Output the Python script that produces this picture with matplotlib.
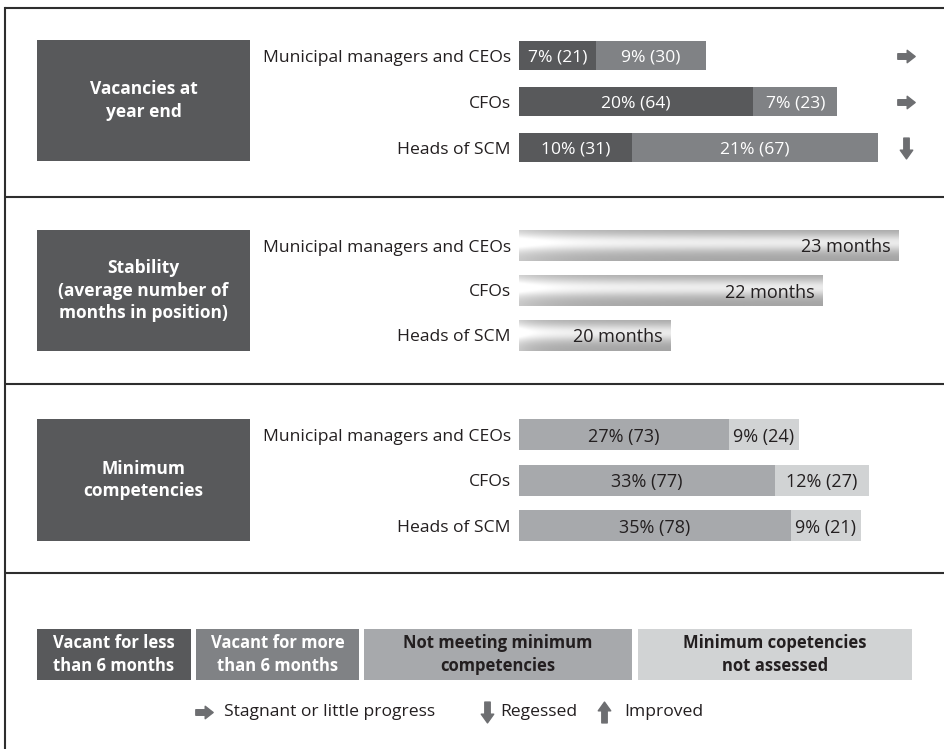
import numpy as np
import matplotlib.pyplot as plt
from matplotlib.path import Path
from matplotlib.patches import Rectangle
import matplotlib.transforms as mtransforms

plt.rcParams['font.family'] = ['Open Sans', 'DejaVu Sans']

# data
roles = ['Municipal managers and CEOs', 'CFOs', 'Heads of SCM']

vac_less_pct = [7, 20, 10]
vac_less_n = [21, 64, 31]
vac_more_pct = [9, 7, 21]
vac_more_n = [30, 23, 67]
trend = ['flat', 'flat', 'down']

months = [23, 22, 20]

notmeet_pct = [27, 33, 35]
notmeet_n = [73, 77, 78]
notassessed_pct = [9, 12, 9]
notassessed_n = [24, 27, 21]

legend_labels = ['Vacant for less\nthan 6 months', 'Vacant for more\nthan 6 months',
                 'Not meeting minimum\ncompetencies', 'Minimum copetencies\nnot assessed']
trend_labels = ['Stagnant or little progress', 'Regessed', 'Improved']

DARK = '#58595b'
MID = '#808285'
LIGHT = '#a7a9ac'
PALE = '#d1d3d4'
TXT = '#231f20'
ARROW = '#6d6e71'

W, H = 945, 749
fig = plt.figure(figsize=(W / 100, H / 100), dpi=100)
bg = fig.add_axes([0, 0, 1, 1])
bg.set_xlim(0, W)
bg.set_ylim(H, 0)
bg.axis('off')


def px_axes(x0, y0, x1, y1):
    ax = fig.add_axes([x0 / W, 1 - y1 / H, (x1 - x0) / W, (y1 - y0) / H])
    ax.patch.set_alpha(0)
    for s in ax.spines.values():
        s.set_visible(False)
    ax.tick_params(length=0, pad=6, labelsize=12.6, labelcolor=TXT)
    ax.set_xticks([])
    return ax


# block arrow markers
right_arrow = Path([(-0.5, -0.16), (0.04, -0.16), (0.04, -0.36), (0.5, 0.0),
                    (0.04, 0.36), (0.04, 0.16), (-0.5, 0.16), (-0.5, -0.16)],
                   closed=True)
down_arrow = Path([(-0.13, 0.5), (0.13, 0.5), (0.13, -0.08), (0.3, -0.08),
                   (0.0, -0.5), (-0.3, -0.08), (-0.13, -0.08), (-0.13, 0.5)],
                  closed=True)
up_arrow = Path([(x, -y) for x, y in down_arrow.vertices], closed=True)
arrow_marks = {'flat': (right_arrow, 12.5), 'down': (down_arrow, 15), 'up': (up_arrow, 15)}

# frame lines
for y in [8, 197, 384, 573]:
    bg.plot([5, W], [y, y], color='#2e2e2e', lw=1.5, solid_capstyle='butt')
bg.plot([5, 5], [8, H], color='#2e2e2e', lw=1.5)

# category boxes
cats = ['Vacancies at\nyear end', 'Stability\n(average number of\nmonths in position)',
        'Minimum\ncompetencies']
for (y0, y1), c in zip([(40, 161), (230, 351), (419, 541)], cats):
    bg.add_patch(Rectangle((37, y0), 213, y1 - y0, color=DARK, lw=0))
    bg.text(143.5, (y0 + y1) / 2, c, color='white', fontsize=12.5, fontweight='bold',
            ha='center', va='center', linespacing=1.35)

ypos = np.arange(len(roles))
VA = 'center_baseline'

# section 1: vacancies
ax1 = px_axes(519, 32.5, W, 170.5)
ax1.barh(ypos, vac_less_n, height=0.65, color=DARK, lw=0)
ax1.barh(ypos, vac_more_n, left=vac_less_n, height=0.65, color=MID, lw=0)
tr = mtransforms.blended_transform_factory(ax1.transAxes, ax1.transData)
for i in ypos:
    ax1.text(vac_less_n[i] / 2, i, f'{vac_less_pct[i]}% ({vac_less_n[i]})',
             color='white', fontsize=12.6, ha='center', va=VA)
    ax1.text(vac_less_n[i] + vac_more_n[i] / 2, i, f'{vac_more_pct[i]}% ({vac_more_n[i]})',
             color='white', fontsize=12.6, ha='center', va=VA)
    mk, ms = arrow_marks[trend[i]]
    ax1.plot((906 - 519) / 426, i, marker=mk, markersize=ms, color=ARROW,
             transform=tr, clip_on=False)
ax1.set_yticks(ypos, roles)
ax1.set_xlim(0, 426 / 3.66)
ax1.set_ylim(2.5, -0.5)

# section 2: stability (gradient bars)
base = 18
ax2 = px_axes(519, 223, W, 358)
bars = ax2.barh(ypos, [m - base for m in months], left=base, height=0.69,
                color='none', lw=0)
t = np.linspace(0, 1, 60)[:, None]
s = np.linspace(0, 1, 300)[None, :]
grad = 0.66 + 0.28 * np.exp(-((t - 0.42) / 0.28) ** 2) + 0.12 * np.exp(-s / 0.12) - 0.02 * s
grad = np.clip(grad, 0, 1)
for i, b in enumerate(bars):
    im = ax2.imshow(grad, extent=[base, months[i], i + 0.345, i - 0.345], aspect='auto',
                    cmap='gray', vmin=0, vmax=1, interpolation='bilinear', zorder=1.5)
    im.set_clip_path(b)
    ax2.text(months[i] - 0.11, i, f'{months[i]} months', color=TXT, fontsize=13,
             ha='right', va=VA, zorder=3)
ax2.set_yticks(ypos, roles)
ax2.set_xlim(base, base + 426 / 76)
ax2.set_ylim(2.5, -0.5)

# section 3: minimum competencies
ax3 = px_axes(519, 412, W, 548.5)
ax3.barh(ypos, notmeet_pct, height=0.68, color=LIGHT, lw=0)
ax3.barh(ypos, notassessed_pct, left=notmeet_pct, height=0.68, color=PALE, lw=0)
for i in ypos:
    ax3.text(notmeet_pct[i] / 2, i, f'{notmeet_pct[i]}% ({notmeet_n[i]})',
             color=TXT, fontsize=13, ha='center', va=VA)
    ax3.text(notmeet_pct[i] + notassessed_pct[i] / 2, i,
             f'{notassessed_pct[i]}% ({notassessed_n[i]})',
             color=TXT, fontsize=13, ha='center', va=VA)
ax3.set_yticks(ypos, roles)
ax3.set_xlim(0, 426 / 7.77)
ax3.set_ylim(2.5, -0.5)

# legend boxes
leg_x = [(37, 191), (196, 359), (364, 632), (638, 912)]
leg_c = [DARK, MID, LIGHT, PALE]
leg_tc = ['white', 'white', TXT, TXT]
for (x0, x1), lab, c, tc in zip(leg_x, legend_labels, leg_c, leg_tc):
    bg.add_patch(Rectangle((x0, 629), x1 - x0, 51, color=c, lw=0))
    bg.text((x0 + x1) / 2, 654.5, lab, color=tc, fontsize=12, fontweight='bold',
            ha='center', va='center', linespacing=1.3)

# trend legend
for (ax_, tx), lab, key in zip([(204, 224), (487, 500), (604, 624)], trend_labels,
                               ['flat', 'down', 'up']):
    mk, ms = arrow_marks[key]
    bg.plot(ax_, 712, marker=mk, markersize=ms, color=ARROW)
    bg.text(tx, 712, lab, color=TXT, fontsize=12.6, ha='left', va='center')

fig.savefig('out.png', dpi=100)
